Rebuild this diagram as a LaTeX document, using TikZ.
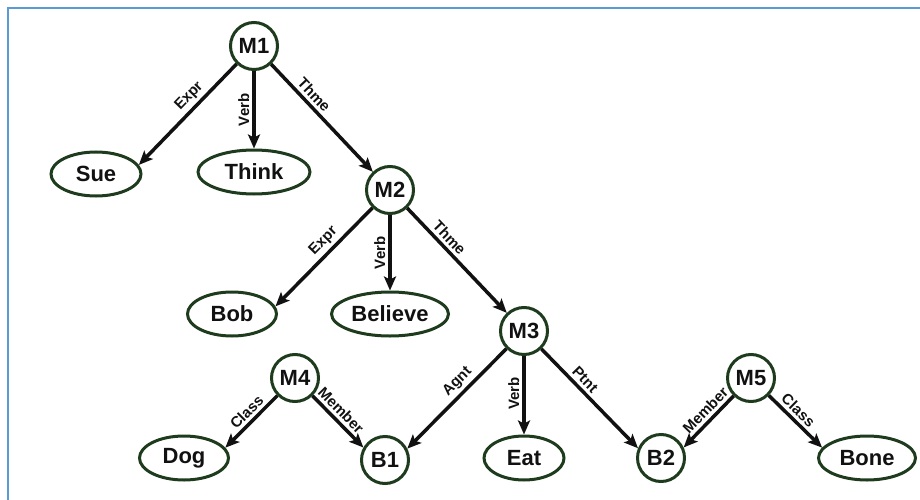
\documentclass[tikz,border=0pt]{standalone}
\usepackage{fontspec}
\setmainfont{Liberation Sans}
\usetikzlibrary{arrows.meta,shapes.geometric}
\definecolor{nodegreen}{HTML}{1E3B1E}
\definecolor{framebl}{HTML}{5B9BD5}
\definecolor{ink}{HTML}{111111}
\tikzset{
  circnode/.style={circle, draw=nodegreen, line width=3pt, minimum size=47pt, inner sep=0pt,
    font=\fontsize{22}{26}\selectfont\bfseries, text=ink},
  ellnode/.style={ellipse, draw=nodegreen, line width=3pt, minimum height=44pt, minimum width=#1,
    inner sep=0pt, font=\fontsize{22}{26}\selectfont\bfseries, text=ink},
  arc/.style={draw=ink, line width=3.5pt, -{Stealth[length=14pt,width=12pt,inset=3pt]}},
  lbl/.style={font=\fontsize{15}{17}\selectfont\bfseries, text=ink, sloped, anchor=south, inner sep=3pt},
  vlbl/.style={font=\fontsize{15}{17}\selectfont\bfseries, text=ink, rotate=90, anchor=south, inner sep=3pt}
}
\begin{document}
\begin{tikzpicture}[x=1pt,y=-1pt]
\useasboundingbox (0,0) rectangle (920,500);
\draw[framebl, line width=2pt] (8,500) -- (8,8) -- (920,8);

\node[circnode] (M1) at (254,46) {M1};
\node[ellnode=90pt] (Sue) at (96,174) {Sue};
\node[ellnode=112pt] (Think) at (254,172) {Think};
\node[circnode] (M2) at (390,190) {M2};
\node[ellnode=89pt] (Bob) at (232,314) {Bob};
\node[ellnode=117pt] (Believe) at (390,314) {Believe};
\node[circnode] (M3) at (524,331) {M3};
\node[ellnode=80pt] (Eat) at (524,458) {Eat};
\node[circnode] (M4) at (295,378) {M4};
\node[circnode] (B1) at (385,460) {B1};
\node[ellnode=89pt] (Dog) at (184,458) {Dog};
\node[circnode] (B2) at (661,458) {B2};
\node[circnode] (M5) at (751,378) {M5};
\node[ellnode=97pt] (Bone) at (867,458) {Bone};

\draw[arc] (M1) -- node[lbl, pos=0.4] {Expr} (Sue.12);
\draw[arc] (M1) -- node[vlbl, pos=0.5] {Verb} (Think);
\draw[arc] (M1) -- node[lbl, pos=0.35] {Thme} (M2);

\draw[arc] (M2) -- node[lbl, pos=0.42] {Expr} (Bob.10);
\draw[arc] (M2) -- node[vlbl, pos=0.5] {Verb} (Believe);
\draw[arc] (M2) -- node[lbl, pos=0.35] {Thme} (M3);

\draw[arc] (M3) -- node[lbl, pos=0.41] {Agnt} (B1.27);
\draw[arc] (M3) -- node[vlbl, pos=0.48] {Verb} (Eat);
\draw[arc] (M3) -- node[lbl, pos=0.38] {Ptnt} (B2.157);

\draw[arc] (M4) -- node[lbl, pos=0.45] {Class} (Dog.14);
\draw[arc] (M4) -- node[lbl, pos=0.42] {Member} (B1.150);

\draw[arc] (M5) -- node[lbl, pos=0.42] {Member} (B2.25);
\draw[arc] (M5) -- node[lbl, pos=0.42] {Class} (Bone.167);
\end{tikzpicture}
\end{document}
